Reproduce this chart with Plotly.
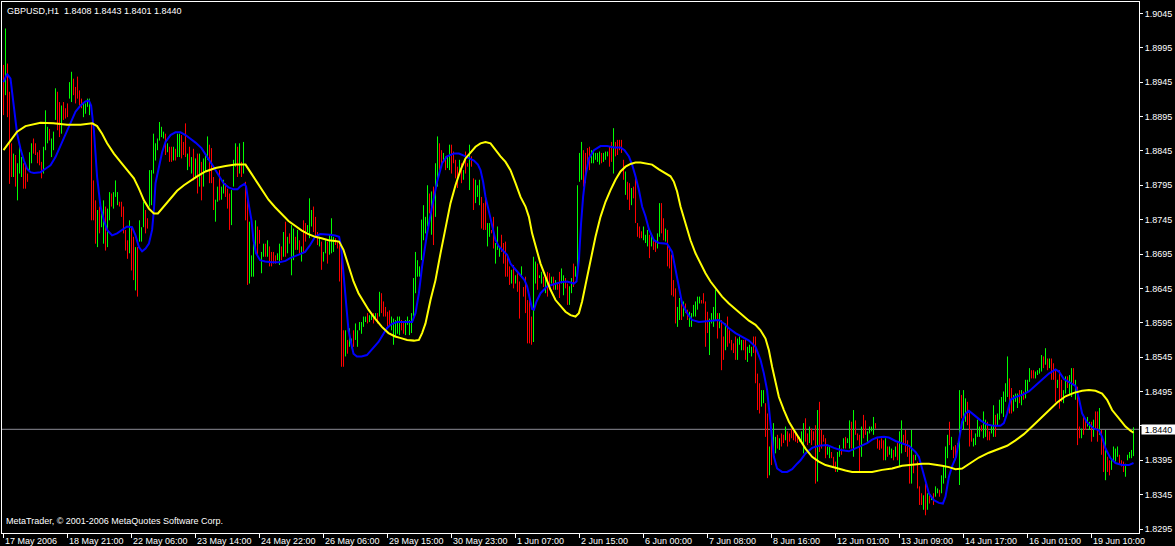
import plotly.graph_objects as go

# ---------------- data ----------------
symbol = "GBPUSD,H1"
last_ohlc = [1.8408, 1.8443, 1.8401, 1.8440]
copyright_text = "MetaTrader, \u00a9 2001-2006 MetaQuotes Software Corp."

time_labels = ["17 May 2006", "18 May 21:00", "22 May 06:00", "23 May 14:00", "24 May 22:00",
               "26 May 06:00", "29 May 15:00", "30 May 23:00", "1 Jun 07:00", "2 Jun 15:00",
               "6 Jun 00:00", "7 Jun 08:00", "8 Jun 16:00", "12 Jun 01:00", "13 Jun 09:00",
               "14 Jun 17:00", "16 Jun 01:00", "19 Jun 10:00"]
label_bars = [0, 32, 64, 96, 128, 160, 192, 224, 256, 288, 320, 352, 384, 416, 448, 480, 512, 544]

price_ticks = [1.8295, 1.8345, 1.8395, 1.8445, 1.8495, 1.8545, 1.8595, 1.8645, 1.8695,
               1.8745, 1.8795, 1.8845, 1.8895, 1.8945, 1.8995, 1.9045]

# bar highs / lows in pips above 1.8000, one per H1 bar
high_a = [970,1023,972,931,856,841,839,827,851,836,
          827,824,812,843,856,863,856,843,846,829,
          851,904,880,877,863,873,936,931,916,911,
          916,907,914,945,960,950,938,953,933,921,
          916,914,921,921,885,802,773,759,764,754,
          773,764,761,785,783,785,802,785,771,771,
          764,730,715,744,734,720,705,705,744,734,
          771,759,747,817,817,870,856,863,887,880,
          873,870,856,851,851,851,848,870,870,868,
          858,885,841,851,836,848,834,841,841]
low_a = [897,926,894,797,807,807,793,773,812,807,
         790,790,800,817,827,841,839,827,824,805,
         812,846,856,860,836,846,890,875,865,870,
         890,892,894,921,916,926,914,921,911,907,
         894,899,909,897,744,744,710,705,725,734,
         710,700,705,744,764,761,778,766,764,749,
         725,700,688,696,671,657,642,633,713,713,
         734,725,732,764,766,812,831,846,860,865,
         863,839,843,829,829,831,831,836,836,834,
         839,836,817,822,812,802,805,783,793]
dir_a = "rgrrrgrggg" "rrrggrrrrr" "gggrgggrrg" "rrrggrrrrr" "ggggrrrgrg" \
        "grggrgggrr" "rrrgrrgrgg" "grrggggggg" "grgrrgrggr" "rrgrgrgrg"

high_b = [829,
          834,839,866,854,849,807,774,793,817,793,
          803,798,790,783,788,832,856,851,856,829,
          858,800,774,742,693,710,744,735,730,698,
          710,710,715,706,698,698,693,696,710,706,
          727,742,720,725,737,732,720,730,715,706,
          744,740,737,776,759,764,749,727,720,713,
          698,715,713,723,747,720,718,713,708,691,
          584,584,570,587,572,584,594,584,596,596,
          604,604,609,606,609,609,609,609,640,638,
          626,618,611,613,604,601,599,604,604,599,
          596]
low_b = [773,
         793,815,832,798,798,759,742,771,773,774,
         783,778,761,730,737,793,822,807,812,807,
         812,744,650,652,662,662,696,691,710,667,
         691,691,691,677,677,681,681,686,679,686,
         691,691,696,710,664,686,701,701,696,684,
         696,713,727,718,735,727,720,708,706,672,
         684,696,681,694,696,698,708,703,655,531,
         531,546,550,560,558,560,570,560,584,579,
         589,596,594,596,599,594,599,594,604,609,
         604,604,589,589,584,563,575,579,577,584,
         579]
dir_b = "r" "gggrrrggrg" "grrrgggrgr" "grrggggrrg" "grgrrrrggr" "grgrggrgrg" \
        "rrgggrrrgr" "ggrgggrrrr" "rgrggrgggg" "ggrggrgrgr" "rrrrgggggr" "r"

high_c = [599,604,599,609,660,698,686,677,745,
          766,749,795,783,786,793,827,866,856,846,
          842,837,837,854,854,844,832,822,832,827,
          817,844,827,854,837,805,803,795,803,778,
          769,781,740,740,730,749,711,735,706,723,
          711,713,694,677,672,679,664,667,655,677,
          647,662,628,631,604,691,684,681,664,669,
          662,662,669,667,662,662,657,652,669,674,
          664,660,652,648,660,681,677,795,842,858,
          846,842,849,851,846,844,842,842,844,842,
          842,844,844,851,858,878,858,861,861,861,
          832,815,800,798,791,793,808,740,735,728,
          735,723,730,723]
low_c = [577,592,577,580,604,638,662,662,686,
         715,725,735,754,723,708,749,793,817,822,
         832,817,820,817,812,827,805,791,812,798,
         803,812,822,788,822,759,769,778,766,732,
         730,730,706,720,725,703,681,701,691,698,
         681,662,662,650,652,645,652,640,601,662,
         633,609,565,565,563,567,652,643,660,652,
         647,638,633,648,652,643,643,643,631,652,
         635,645,621,621,638,647,662,667,800,803,
         793,798,825,817,827,827,832,829,825,827,
         829,832,837,822,829,812,837,839,846,842,
         803,781,774,759,766,776,740,720,718,718,
         715,711,706,689]
dir_c = "ggggggggg" "gggrgrggrr" "grggrrrrgr" "grrgrrgggr" "rrggrrgggr" "rrrrgrgrrg" \
        "rrrrrggrgg" "rgrrgrgrrg" "grrggrgggg" "rrrrgggggr" "gggrrgrrrr" "rgrrgrrrrr" "gggr"

high_d = [723,715,715,725,769,769,
          747,732,730,706,694,657,645,618,631,623,
          626,623,614,611,609,621,626,633,633,628,
          638,626,611,601,609,618,643,609,609,599,
          575,594,604,584,570,565,575,572,575,570,
          570,570,560,563,560,575,575,521,507,497,
          497,478,463,415,427,449,429,432,427,434,
          432,444,437,434,441,437,434,429,429]
low_d = [706,701,698,703,720,725,
         715,713,677,674,635,633,594,589,599,599,
         604,609,599,589,589,604,604,614,623,623,
         623,560,580,548,594,589,599,572,587,526,
         541,555,560,565,555,551,541,541,563,555,
         555,541,538,551,546,551,507,468,463,473,
         478,429,369,373,388,400,405,412,410,415,
         420,424,415,422,427,424,422,420,422]
dir_d = "grrggr" "rgrrrrrggr" "grrggggggr" "rrrggggrgr" "rgrrrrrggg" "rrgggrrrrg" \
        "grrgrggrgr" "rgrrrrrrg"

high_e = [437,
          449,456,434,444,441,437,446,468,480,439,
          432,427,415,417,407,400,393,407,417,412,
          427,429,427,453,451,468,453,434,432,444,
          461,453,437,444,444,458,449,427,424,427,
          424,427,415,415,412,410,415,420,437,453,
          432,439,424,415,439,403,403,393,357,347,
          344,361,347,344,342,347,357,354,352,373,
          386,415,432,451,429,415,417,420,497]
low_e = [420,
         405,422,417,420,417,424,361,364,407,412,
         422,398,403,398,398,386,378,378,400,403,
         412,412,420,412,412,400,432,424,378,400,
         427,432,422,434,437,432,441,412,410,412,
         395,395,400,403,398,395,400,395,386,405,
         420,407,400,361,361,376,395,354,330,330,
         323,315,323,332,337,330,342,347,342,347,
         361,369,398,417,410,398,395,407,359]
dir_e = "g" "grrgrrrgrr" "rrggrrrggr" "grggrgrrrg" "rrggggrrrr" "rgrggrgrgg" \
        "rrrrgrgrrr" "grgrgrggrg" "gggrgrrrg"

high_f = [490,
          497,485,480,466,439,427,434,454,444,446,
          466,454,451,437,446,475,461,463,483,487,
          495,507,546,514,500,490,492,492,497,497,
          495,512,512,529,526,526,524,526,529,548,
          546,558,543,543,543,536,526,512,526,512,
          497,517,517,519,529,529,512,502,444,441,
          461,454,458,451,451,454,466,466,471,439,
          424,439,400,395,398,415,412,415,403,395,
          393,390,403,407,410,443]
low_f = [456,
         439,451,446,415,422,415,417,429,429,437,
         427,429,424,424,434,429,429,446,454,463,
         458,480,487,463,463,466,480,471,478,475,
         483,485,495,509,514,514,514,519,521,524,
         529,534,526,529,512,512,480,500,470,480,
         478,492,500,490,487,504,483,417,427,427,
         432,439,444,439,422,429,439,422,432,403,
         378,366,378,373,381,395,393,400,390,386,
         378,371,395,398,398,401]
dir_f = "r" "ggrrrggggr" "ggrrggrggg" "gggrrgggrg" "rgggrrgggg" "rgrgrrrgrr" \
        "ggrggrgrrg" "rrggrgrrgr" "rgrrggggrr" "rggggg"

# smoothed indicator lines: (bar position, pips above 1.8000)
blue_pts = [(0,945),(1.8,957),(3.5,950),(5.2,909),(6.8,870),(8.5,848),(10.2,831),(11.8,819),(13.5,814),(15.2,813),
    (18.5,814),(21,819),(23.5,824),(26,836),(28.5,853),(31,868),(33.5,887),(36,902),(38.5,911),(41,917),
    (42.7,918),(43.8,911),(45.2,875),(46,841),(46.8,807),(48.5,764),(50.2,744),(51.8,730),(54.3,722),(56.8,725),
    (59.3,730),(61.8,735),(64.3,734),(66,722),(67.7,705),(69.3,699),(71,703),(72.7,710),(74.3,730),(75.2,759),
    (76,798),(77.7,822),(79.3,843),(81,858),(83.5,868),(86,872),(88.5,872),(91,868),(93.5,863),(96,857),
    (99,849),(102.5,834),(105,822),(107.5,810),(110,798),(112.5,792),(115,789),(117,789),(118.3,793),(120.5,797),
    (121.3,793),(122.5,769),(124,744),(125,715),(126.3,696),(128.3,686),(130.8,684),(134,683),(138,683),(141,685),
    (143.3,689),(145.8,692),(148.3,695),(150.8,698),(153.3,708),(155.8,720),(158.3,724),(160.8,724),(163.3,723),(165.8,722),
    (167.8,720),(168.8,706),(170,662),(170.8,638),(171.7,609),(172.5,584),(174,563),(175,550),(176.7,546),(179,546),
    (181.7,548),(184,556),(187.5,567),(190,579),(191.7,587),(194,593),(196.7,596),(200,596),(204.3,596),(206,609),
    (207.7,638),(209.3,677),(211.8,725),(214.3,764),(216.8,800),(219.3,827),(221.8,837),(225.2,841),(227.7,841),(230.2,838),
    (232.7,834),(235.2,831),(237.2,825),(238.5,817),(239.8,800),(241,778),(242.7,757),(244.3,735),(246,715),(247.7,706),
    (250.2,698),(251.8,694),(253.5,681),(256,672),(258.5,664),(260.5,657),(261.8,648),(263.2,628),(264.3,615),(265.2,614),
    (266.5,626),(268.5,638),(271.8,648),(275.2,651),(278.5,654),(281.8,655),(285.2,652),(286.5,655),(287.7,686),(288.8,740),
    (289.8,778),(291,808),(292.7,834),(295.2,846),(298.5,852),(301.8,852),(305.2,850),(308.5,850),(310.5,846),(312.7,837),
    (314.3,825),(316,808),(317.7,788),(319.3,764),(321,750),(322.7,731),(325.2,715),(327.7,711),(331.8,710),(334.3,698),
    (336,672),(337.7,643),(339.3,623),(341.8,609),(344.3,599),(347.7,596),(351,597),(354.3,599),(357.7,599),(360.2,594),
    (362.7,587),(366,580),(369.3,575),(372.7,569),(376,560),(378.5,541),(380.2,521),(381.8,497),(383,463),(384,429),
    (385.2,400),(386.8,383),(389.3,378),(391.8,378),(394.3,382),(396.8,390),(398.5,395),(401,405),(404.3,413),(407.7,416),
    (411.8,417),(415.2,413),(418.5,410),(422.7,408),(426,412),(429.3,416),(431.8,420),(434.3,425),(436.8,428),(440.2,429),
    (442.7,428),(446,423),(449.3,420),(452.7,416),(456,407),(457.7,400),(459.3,383),(461,364),(462.7,347),(465.2,337),
    (467.7,333),(469.7,332),(471,342),(472.7,371),(474.3,386),(476.3,400),(477.7,424),(479.3,451),(481,463),(482.7,467),
    (485.2,461),(488.5,453),(491.8,447),(495.2,445),(498.5,445),(500.2,449),(501.8,463),(503.5,483),(506,487),(509.3,490),
    (512.7,495),(516,504),(519.3,513),(522.7,521),(526,527),(527.7,524),(530.2,513),(533.5,508),(536,503),(537.7,485),
    (539.3,463),(541.8,450),(545.2,441),(547.7,439),(549.3,429),(551,412),(553.5,398),(556,391),(559.3,388),(562.7,388),
    (565,391)]

yellow_pts = [(0,846),(3.5,860),(6.8,873),(11,881),(15.2,884),(18.5,886),(25,885),(31.8,883),(38.5,883),(44.3,885),
    (46.8,881),(49.3,870),(51.8,856),(55.2,841),(58.5,829),(61.8,817),(65.2,805),(67.7,790),(70.2,773),(72.7,761),
    (75.2,754),(77.2,754),(80.2,764),(83.5,776),(86.8,787),(90.2,795),(93.5,802),(96.8,808),(101,815),(106,820),
    (111,823),(116,825),(121,825),(123.3,815),(126,803),(129.2,788),(132.5,774),(135.8,763),(139.2,753),(142.5,743),
    (145.8,736),(149.2,729),(152.5,724),(155.8,720),(159,718),(162.5,715),(165.8,714),(167.8,713),(170,701),(172.5,677),
    (175,655),(177.5,638),(180,626),(182.5,614),(185.8,601),(189.2,589),(192.5,580),(195.8,575),(198.3,573),(201.8,570),
    (205.2,569),(207.7,570),(209.3,580),(211,594),(213.5,628),(216,657),(218.5,696),(221,735),(223.5,769),(226,795),
    (228.5,817),(231,834),(233.5,842),(236,851),(238.5,856),(241,858),(243.5,856),(246,846),(248.5,837),(251,829),
    (253.5,817),(256,798),(258.5,778),(261,764),(262.7,749),(264.3,725),(266,706),(268.5,681),(271,662),(273.5,643),
    (276,628),(278.5,619),(281,611),(283.5,606),(286,604),(287.7,609),(289.3,626),(291,650),(293.5,686),(296,720),
    (298.5,749),(301,771),(303.5,788),(306,803),(308.5,815),(311,822),(313.5,826),(316,828),(318.5,828),(321,827),
    (324.3,825),(327.7,818),(331,813),(333.5,808),(335.2,800),(336.8,786),(338.5,764),(341,740),(343.5,715),(346,696),
    (348.5,681),(351,667),(353.5,655),(356,645),(359.3,633),(362.7,623),(366,615),(369.3,606),(372.7,598),(376,592),
    (378.5,584),(381,572),(382.7,555),(384.3,531),(386,507),(387.7,487),(390.2,468),(392.7,451),(395.2,439),(397.7,427),
    (401,412),(404.3,400),(407.7,393),(411,388),(414.3,385),(417.7,382),(421,380),(424.3,378),(429.3,378),(434.3,378),
    (439.3,381),(444.3,383),(449.3,387),(454.3,389),(459.3,390),(462.7,390),(466,389),(469.3,387),(472.7,385),(476,382),
    (479.3,383),(482.7,390),(487.7,399),(492.7,406),(497.7,411),(501.8,416),(506,424),(510.2,433),(514.3,444),(518.5,456),
    (522.7,468),(526.8,479),(531,488),(535.2,493),(539.3,496),(542.7,497),(546,496),(549.3,492),(551.8,483),(554.3,468),
    (557.7,456),(561,444),(563.5,438),(565,435)]

# ---------------- build ----------------
def pip(v):
    return 1.8 + v / 10000.0

high_pips = high_a + high_b + high_c + high_d + high_e + high_f
low_pips = low_a + low_b + low_c + low_d + low_e + low_f
direction = dir_a + dir_b + dir_c + dir_d + dir_e + dir_f
n = min(len(high_pips), len(low_pips), len(direction))

gx, gy, rx, ry = [], [], [], []
for i in range(n):
    h, l = pip(high_pips[i]), pip(low_pips[i])
    if direction[i] == "g":
        gx += [i, i, None]; gy += [l, h, None]
    else:
        rx += [i, i, None]; ry += [l, h, None]

fig = go.Figure()
fig.add_trace(go.Scatter(x=gx, y=gy, mode="lines", line=dict(color="#00FF00", width=1),
                         hoverinfo="skip", connectgaps=False))
fig.add_trace(go.Scatter(x=rx, y=ry, mode="lines", line=dict(color="#FF0000", width=1),
                         hoverinfo="skip", connectgaps=False))
fig.add_trace(go.Scatter(x=[p[0] for p in blue_pts], y=[pip(p[1]) for p in blue_pts], mode="lines",
                         line=dict(color="#0000FF", width=2), hoverinfo="skip"))
fig.add_trace(go.Scatter(x=[p[0] for p in yellow_pts], y=[pip(p[1]) for p in yellow_pts], mode="lines",
                         line=dict(color="#FFFF00", width=2), hoverinfo="skip"))

fig.add_hline(y=last_ohlc[3], line=dict(color="#8C8C96", width=1), layer="below")

font_small = dict(family="Liberation Sans", size=9, color="white")

# the current-price box covers the tick label closest to it (as in the terminal)
close_price = last_ohlc[3]
tick_text = ["" if abs(v - close_price) < 0.0015 else f"{v:.4f}" for v in price_ticks]

annotations = []
for b, t in zip(label_bars, time_labels):
    annotations.append(dict(x=b, xref="x", y=0, yref="paper", text=t, showarrow=False,
                            xanchor="left", yanchor="top", yshift=-1, xshift=-1, font=font_small))
annotations.append(dict(x=0, xref="paper", y=1, yref="paper",
                        text=symbol + "\u00a0\u00a0" + " ".join(f"{v:.4f}" for v in last_ohlc),
                        showarrow=False, xanchor="left", yanchor="top", xshift=3, yshift=-2, font=font_small))
annotations.append(dict(x=0, xref="paper", y=0, yref="paper", text=copyright_text, showarrow=False,
                        xanchor="left", yanchor="bottom", xshift=2, yshift=5, font=font_small))
annotations.append(dict(x=1, xref="paper", y=close_price, yref="y", text=f"{close_price:.4f}",
                        showarrow=False, xanchor="left", yanchor="middle", xshift=2, bgcolor="white",
                        width=33, height=9, borderpad=0,
                        font=dict(family="Liberation Sans", size=9, color="black")))

fig.update_layout(
    width=1175, height=546,
    margin=dict(l=2, r=36, t=2, b=13),
    paper_bgcolor="black", plot_bgcolor="black",
    showlegend=False, hovermode=False,
    annotations=annotations,
    xaxis=dict(range=[-0.75, 567.75], showgrid=False, zeroline=False, showline=True,
               linecolor="white", linewidth=1, mirror=True, tickmode="array",
               tickvals=label_bars, ticktext=[""] * len(label_bars), ticks="outside",
               ticklen=4, tickcolor="white", automargin=False, fixedrange=True),
    yaxis=dict(range=[1.828918, 1.906154], side="right", showgrid=False, zeroline=False,
               showline=True, linecolor="white", linewidth=1, mirror=True, tickmode="array",
               tickvals=price_ticks, ticktext=tick_text,
               ticks="outside", ticklen=3, tickcolor="white", tickfont=font_small,
               automargin=False, fixedrange=True),
)

fig.write_html("out.html", config={"displayModeBar": False, "staticPlot": True},
               post_script="document.body.style.margin='0';")
